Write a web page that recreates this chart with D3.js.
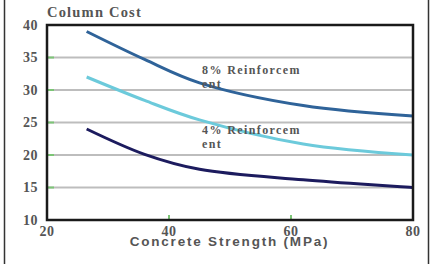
<!DOCTYPE html>
<html>
<head>
<meta charset="utf-8">
<script src="https://cdn.jsdelivr.net/npm/d3@7"></script>
<style>
  body { margin: 0; background: #fff; }
  svg { display: block; }
</style>
</head>
<body>
<div id="chart"></div>
<script>
'use strict';

// values (MPa, cost)
const strength = [26.5, 36, 45, 62, 80];
const cost8 = [39, 34.7, 31.1, 27.6, 26];
const cost4 = [32, 28.4, 25.4, 21.7, 20];
const costPlain = [24, 20.1, 17.8, 16.2, 15];

const yTicks = [10, 15, 20, 25, 30, 35, 40];
const xTicks = [20, 40, 60, 80];

const width = 430, height = 264;
const margin = { top: 25, right: 17, bottom: 44, left: 47 };

const svg = d3.select("#chart")
	.append("svg")
		.attr("width", width)
		.attr("height", height);

// outer frame lines
svg.append("line")
	.attr("x1", 4.5).attr("x2", 4.5).attr("y1", 0).attr("y2", height)
	.attr("stroke", "#333").attr("stroke-width", 1.5);
svg.append("line")
	.attr("x1", 428.5).attr("x2", 428.5).attr("y1", 0).attr("y2", height)
	.attr("stroke", "#333").attr("stroke-width", 1.5);

const x = d3.scaleLinear()
	.domain([20, 80])
	.range([margin.left, width - margin.right]);

const y = d3.scaleLinear()
	.domain([10, 40])
	.range([height - margin.bottom, margin.top]);

// gridlines
svg.append("g")
	.selectAll("line")
	.data(yTicks.filter(d => d > 10 && d < 40))
	.join("line")
		.attr("x1", x(20)).attr("x2", x(80))
		.attr("y1", d => y(d)).attr("y2", d => y(d))
		.attr("stroke", "#bdbdbd")
		.attr("stroke-width", 2);

// little green ticks
svg.append("g")
	.selectAll("line")
	.data(yTicks.filter(d => d > 10 && d < 40))
	.join("line")
		.attr("x1", x(20)).attr("x2", x(20) + 7)
		.attr("y1", d => y(d)).attr("y2", d => y(d))
		.attr("stroke", "#7cc576")
		.attr("stroke-width", 2);
svg.append("g")
	.selectAll("line")
	.data([40, 60])
	.join("line")
		.attr("x1", d => x(d)).attr("x2", d => x(d))
		.attr("y1", y(10)).attr("y2", y(10) - 5)
		.attr("stroke", "#7cc576")
		.attr("stroke-width", 2);

// series
const line = d3.line()
	.x(d => x(d[0]))
	.y(d => y(d[1]))
	.curve(d3.curveCatmullRom.alpha(0.5));

const series = [
	{ values: cost8, color: "#2f6399" },
	{ values: cost4, color: "#6ccadb" },
	{ values: costPlain, color: "#1c1b5e" }
];

svg.append("g")
	.selectAll("path")
	.data(series)
	.join("path")
		.attr("d", s => line(strength.map((v, i) => [v, s.values[i]])))
		.attr("fill", "none")
		.attr("stroke", s => s.color)
		.attr("stroke-width", 3);

// plot frame
svg.append("rect")
	.attr("x", x(20)).attr("y", y(40))
	.attr("width", x(80) - x(20))
	.attr("height", y(10) - y(40))
	.attr("fill", "none")
	.attr("stroke", "#1a1a1a")
	.attr("stroke-width", 2.5);

// y tick labels
svg.append("g")
	.selectAll("text")
	.data(yTicks)
	.join("text")
		.attr("x", 38)
		.attr("y", d => y(d))
		.attr("dy", "0.35em")
		.attr("text-anchor", "end")
		.attr("font-family", "Liberation Serif, serif")
		.attr("font-weight", "bold")
		.attr("font-size", 14)
		.attr("letter-spacing", 0.5)
		.attr("fill", "#555")
		.text(d => d);

// x tick labels
svg.append("g")
	.selectAll("text")
	.data(xTicks)
	.join("text")
		.attr("x", d => x(d))
		.attr("y", 236)
		.attr("text-anchor", "middle")
		.attr("font-family", "Liberation Serif, serif")
		.attr("font-weight", "bold")
		.attr("font-size", 14)
		.attr("letter-spacing", 0.5)
		.attr("fill", "#555")
		.text(d => d);

// titles
svg.append("text")
	.attr("x", 47)
	.attr("y", 17)
	.attr("font-family", "Liberation Serif, serif")
	.attr("font-weight", "bold")
	.attr("font-size", 14.5)
	.attr("letter-spacing", 1.2)
	.attr("fill", "#555")
	.text("Column Cost");

svg.append("text")
	.attr("x", 229.5)
	.attr("y", 246)
	.attr("text-anchor", "middle")
	.attr("font-family", "Liberation Sans, Arial, sans-serif")
	.attr("font-weight", "bold")
	.attr("font-size", 13.5)
	.attr("letter-spacing", 1.8)
	.attr("fill", "#555")
	.text("Concrete Strength (MPa)");

// series labels
const labels = [
	{ lines: ["8% Reinforcem", "ent"], y: 74 },
	{ lines: ["4% Reinforcem", "ent"], y: 134 }
];
labels.forEach(l => {
	l.lines.forEach((t, i) => {
		svg.append("text")
			.attr("x", 202)
			.attr("y", l.y + i * 14)
			.attr("font-family", "Liberation Serif, serif")
			.attr("font-weight", "bold")
			.attr("font-size", 12)
			.attr("letter-spacing", 1.4)
			.attr("fill", "#555")
			.text(t);
	});
});
</script>
</body>
</html>
